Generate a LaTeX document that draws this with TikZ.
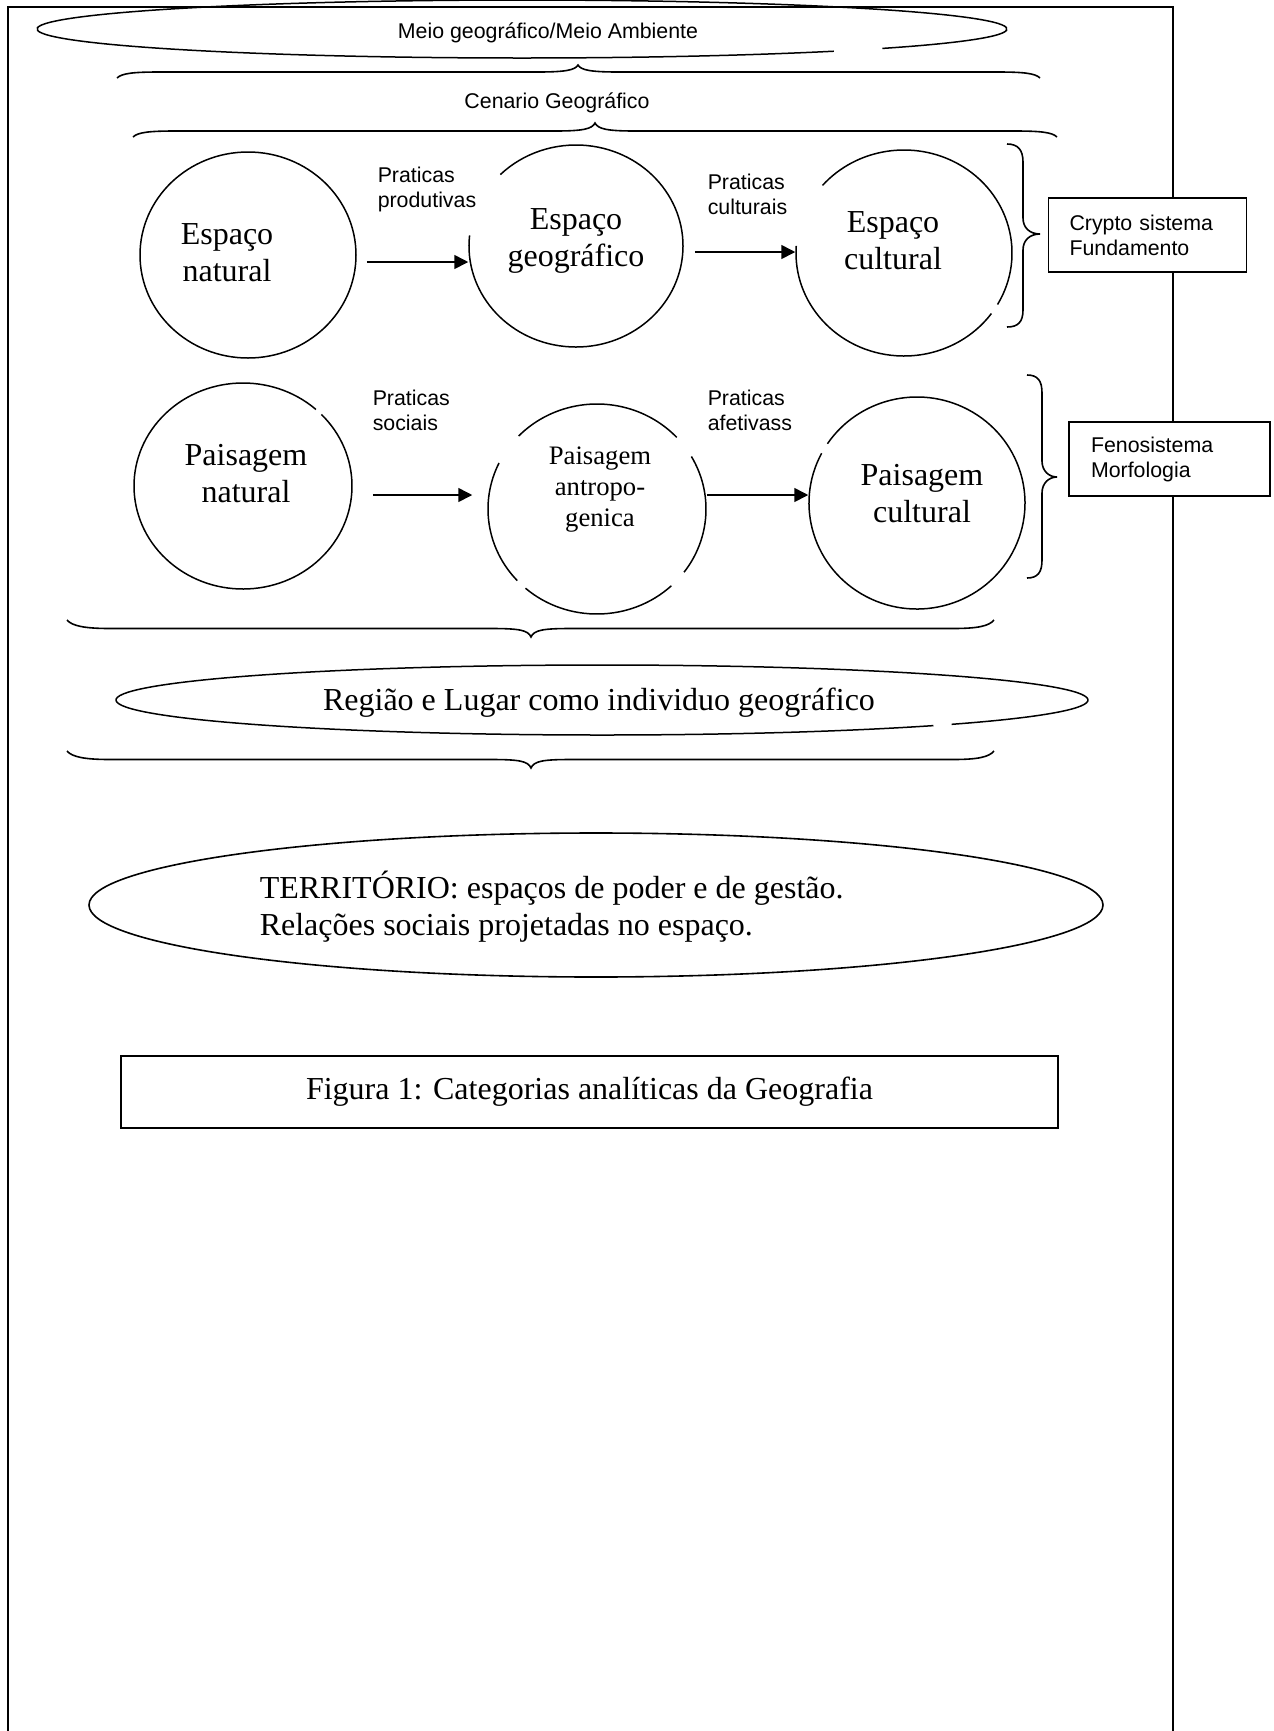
\documentclass[tikz,border=0pt]{standalone}
\usepackage{fontspec}
\setmainfont{Liberation Serif}
\newfontfamily\arialf{Liberation Sans}
\usetikzlibrary{shapes.geometric,arrows.meta,calc}
\newcommand\ellarc[5]{\draw ([shift={(#4:#2 and #3)}]#1.center) arc[start angle=#4, end angle=#5, x radius=#2, y radius=#3];}
\begin{document}
\begin{tikzpicture}[x=0.5pt,y=0.5pt,line width=0.75pt]
\tikzset{
 shp/.style={ellipse, inner sep=0pt, draw=none},
 sans/.style={font=\arialf\fontsize{10.67}{12.5}\selectfont, align=left, inner sep=0pt},
 serif/.style={font=\fontsize{16}{18.5}\selectfont, align=center, inner sep=0pt},
 small/.style={font=\fontsize{13.33}{15.5}\selectfont, align=center, inner sep=0pt},
 arr/.style={-{Triangle[length=7pt,width=7pt]}, line width=0.8pt},
 boxn/.style={draw, fill=white, rectangle, align=left, font=\arialf\fontsize{10.67}{12.5}\selectfont, minimum height=37pt, inner ysep=0pt, line width=0.8pt},
 brace/.style={line width=0.8pt}
}
\useasboundingbox (0,0) rectangle (1274,-1731);
\fill[white] (0,0) rectangle (1274,-1731);
% frame
\draw[line width=1pt] (8,-1740) -- (8,-7) -- (1173,-7) -- (1173,-1740);

% top ellipse
\node[shp, minimum width=485pt, minimum height=29pt] (meio) at (522,-29) {};
\ellarc{meio}{485}{29}{-42}{310}
\node[sans] (meiotxt) at (548,-33) {Meio geográfico/Meio Ambiente};

% brace 1
\draw[brace] (117,-78) .. controls (122,-73) and (135,-72) .. (160,-72) -- (538,-72) .. controls (566,-72) and (575,-70) .. (578,-65) .. controls (581,-70) and (590,-72) .. (618,-72) -- (997,-72) .. controls (1022,-72) and (1035,-73) .. (1040,-78);
\node[sans] (cenario) at (557,-103) {Cenario Geográfico};
% brace 2
\draw[brace] (133,-137) .. controls (138,-132) and (151,-131) .. (176,-131) -- (555,-131) .. controls (583,-131) and (592,-129) .. (595,-123) .. controls (598,-129) and (607,-131) .. (635,-131) -- (1014,-131) .. controls (1039,-131) and (1052,-132) .. (1057,-137);

% row 1
\node[shp, minimum width=108pt, minimum height=103pt] (c1) at (248,-255) {};
\ellarc{c1}{108}{103}{0}{360}
\node[serif] (t1) at (227,-253) {Espaço\\natural};
\node[shp, minimum width=107pt, minimum height=101pt] (c2) at (576,-246) {};
\ellarc{c2}{107}{101}{174}{495}
\node[serif] (t2) at (576,-241) {Espaço\\geográfico};
\node[shp, minimum width=108pt, minimum height=103pt] (c3) at (904,-253) {};
\ellarc{c3}{108}{103}{176}{324}
\ellarc{c3}{108}{103}{-30}{139}
\node[serif] (t3) at (893,-241) {Espaço\\cultural};

\draw[arr] ($(c1.east)+(10,-7)$) -- ($(c2.west)+(0,-16)$);
\draw[arr] ($(c2.east)+(11,-6)$) -- ($(c3.west)+(0,1)$);
\node[sans, anchor=west] (l1) at (377,-189) {Praticas\\produtivas};
\node[sans, anchor=west] (l2) at (707,-194) {Praticas\\culturais};

% right brace 1 and box
\draw[brace] (1007,-144) .. controls (1018,-144) and (1023,-150) .. (1023,-162) -- (1023,-218) .. controls (1023,-228) and (1030,-234) .. (1040,-234) .. controls (1030,-234) and (1023,-240) .. (1023,-250) -- (1023,-310) .. controls (1023,-322) and (1018,-327) .. (1007,-327);
\node[boxn, text width=78pt, inner xsep=10.5pt] (crypto) at (1147.5,-235) {Crypto sistema\\Fundamento};

% row 2
\node[shp, minimum width=109pt, minimum height=103pt] (c4) at (243,-486) {};
\ellarc{c4}{109}{103}{48}{404}
\node[serif] (t4) at (246,-474) {Paisagem\\natural};
\node[shp, minimum width=109pt, minimum height=105pt] (c5) at (597,-509) {};
\ellarc{c5}{109}{105}{43}{136}
\ellarc{c5}{109}{105}{154}{223}
\ellarc{c5}{109}{105}{229}{313}
\ellarc{c5}{109}{105}{323}{390}
\node[small] (t5) at (600,-490) {Paisagem\\antropo-\\genica};
\node[shp, minimum width=108pt, minimum height=106pt] (c6) at (917,-503) {};
\ellarc{c6}{108}{106}{152}{506}
\node[serif] (t6) at (922,-494) {Paisagem\\cultural};

\draw[arr] ($(c4.east)+(20,-9)$) -- ($(c5.west)+(-15,14)$);
\draw[arr] ($(c5.east)+(0,14)$) -- ($(c6.west)+(0,8)$);
\node[sans, anchor=west] (l3) at (372,-410) {Praticas\\sociais};
\node[sans, anchor=west] (l4) at (707,-410) {Praticas\\afetivass};

% right brace 2 and box
\draw[brace] (1027,-375) .. controls (1038,-375) and (1042,-381) .. (1042,-393) -- (1042,-461) .. controls (1042,-471) and (1049,-477) .. (1057,-477) .. controls (1049,-477) and (1042,-483) .. (1042,-493) -- (1042,-560) .. controls (1042,-572) and (1038,-578) .. (1027,-578);
\node[boxn, text width=78.5pt, inner xsep=11pt] (feno) at (1169.5,-459) {Fenosistema\\Morfologia};

% brace 3
\draw[brace] (67,-620) .. controls (72,-626) and (85,-628.5) .. (110,-628.5) -- (491,-628.5) .. controls (519,-628.5) and (528,-630) .. (531,-637) .. controls (534,-630) and (543,-628.5) .. (571,-628.5) -- (953,-628.5) .. controls (978,-628.5) and (989,-626) .. (994,-620);

% regiao ellipse
\node[shp, minimum width=486pt, minimum height=35pt] (reg) at (602,-700) {};
\ellarc{reg}{486}{35}{-44}{313}
\node[serif] (regtxt) at (599,-703) {Região e Lugar como individuo geográfico};

% brace 4
\draw[brace] (67,-751) .. controls (72,-757) and (85,-759.5) .. (110,-759.5) -- (491,-759.5) .. controls (519,-759.5) and (528,-761) .. (531,-768) .. controls (534,-761) and (543,-759.5) .. (571,-759.5) -- (953,-759.5) .. controls (978,-759.5) and (989,-757) .. (994,-751);

% territorio
\node[shp, draw, line width=0.8pt, minimum width=507pt, minimum height=72pt] (terr) at (596,-905) {};
\node[serif, align=left, anchor=west] (terrtxt) at (259,-907) {TERRITÓRIO: espaços de poder e de gestão.\\Relações sociais projetadas no espaço.};

% figure caption box
\node[draw, line width=0.8pt, minimum width=468.5pt, minimum height=36pt, inner sep=0pt, font=\fontsize{16}{18.5}\selectfont] (fig) at (589.5,-1092) {Figura 1: Categorias analíticas da Geografia};
\end{tikzpicture}
\end{document}
